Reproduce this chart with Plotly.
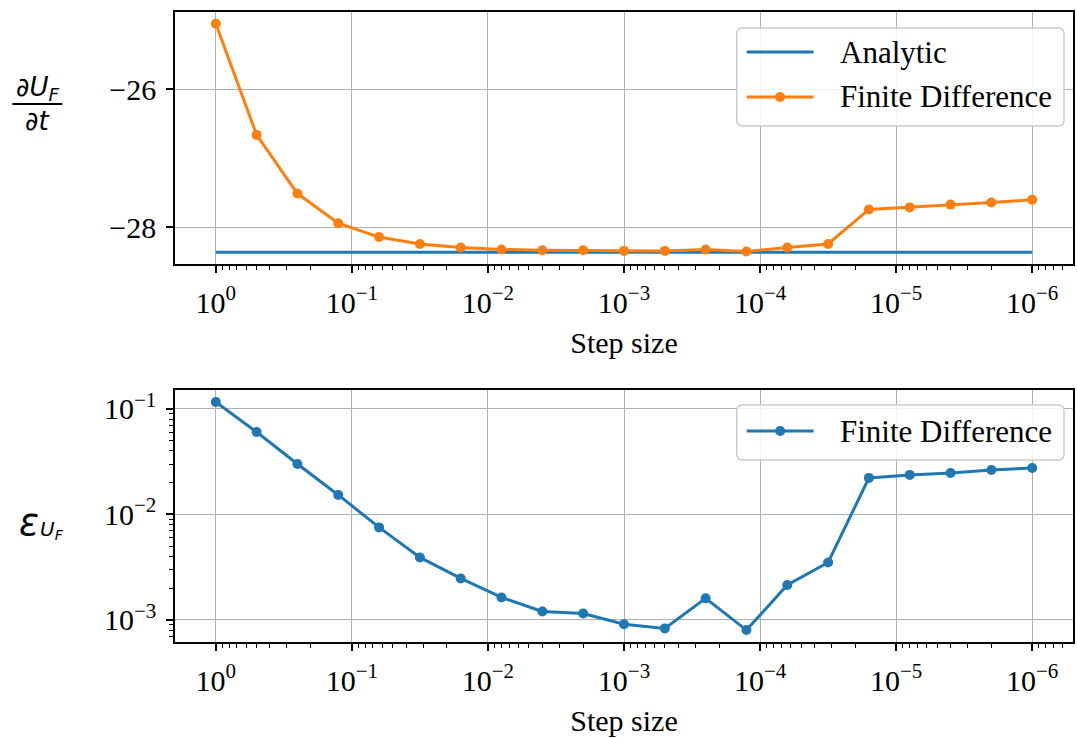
import plotly.graph_objects as go

# ---------------- data ----------------
step_size = [1.0, 5.012e-1, 2.512e-1, 1.259e-1, 6.310e-2, 3.162e-2, 1.585e-2,
             7.943e-3, 3.981e-3, 1.995e-3, 1.0e-3, 5.012e-4, 2.512e-4, 1.259e-4,
             6.310e-5, 3.162e-5, 1.585e-5, 7.943e-6, 3.981e-6, 1.995e-6, 1.0e-6]
analytic_value = -28.36
analytic = [analytic_value] * len(step_size)
finite_diff = [-25.05, -26.66, -27.51, -27.94, -28.14, -28.24, -28.29, -28.32,
               -28.33, -28.33, -28.34, -28.34, -28.32, -28.35, -28.29, -28.24,
               -27.74, -27.71, -27.67, -27.64, -27.60]
rel_error = [0.1165, 0.0605, 0.0301, 0.0153, 0.00753, 0.00391, 0.00247, 0.00163,
             0.00120, 0.00115, 0.00091, 0.00083, 0.00160, 0.00080, 0.00214,
             0.00350, 0.0222, 0.0237, 0.0247, 0.0264, 0.0276]

x_major = [1, 1e-1, 1e-2, 1e-3, 1e-4, 1e-5, 1e-6]
x_major_text = ["10<sup>0</sup>", "10<sup>−1</sup>", "10<sup>−2</sup>", "10<sup>−3</sup>",
                "10<sup>−4</sup>", "10<sup>−5</sup>", "10<sup>−6</sup>"]
y1_ticks = [-26, -28]
y1_text = ["−26", "−28"]
y2_ticks = [1e-1, 1e-2, 1e-3]
y2_text = ["10<sup>−1</sup>", "10<sup>−2</sup>", "10<sup>−3</sup>"]

BLUE = "#1f77b4"
ORANGE = "#ff7f0e"
FONT = "Liberation Serif"
LW = 3
MS = 10

def minor_vals(lo_exp, hi_exp):
    out = []
    for e in range(lo_exp, hi_exp + 1):
        for m in range(2, 10):
            out.append(m * 10.0 ** e)
    return out

W, H = 1077, 738
L, R, T, B = 175, 2, 12, 96
PW, PH = W - L - R, H - T - B

def px(x):
    return (x - L) / PW

def py(y):
    return (H - B - y) / PH

fig = go.Figure()

fig.add_trace(go.Scatter(x=step_size, y=analytic, mode="lines", name="Analytic",
                         line=dict(color=BLUE, width=LW), xaxis="x", yaxis="y",
                         showlegend=False))
fig.add_trace(go.Scatter(x=step_size, y=finite_diff, mode="lines+markers",
                         name="Finite Difference",
                         line=dict(color=ORANGE, width=LW),
                         marker=dict(color=ORANGE, size=MS),
                         xaxis="x", yaxis="y", showlegend=False))
fig.add_trace(go.Scatter(x=step_size, y=rel_error, mode="lines+markers",
                         name="Finite Difference",
                         line=dict(color=BLUE, width=LW),
                         marker=dict(color=BLUE, size=MS),
                         xaxis="x2", yaxis="y2", showlegend=False))

axis_common = dict(showline=True, linecolor="black", linewidth=1.5, mirror=True,
                   ticks="outside", ticklen=7, tickwidth=1.5, tickcolor="black",
                   showgrid=True, gridcolor="#b0b0b0", gridwidth=1.2,
                   zeroline=False, ticklabelstandoff=4,
                   tickfont=dict(family=FONT, size=30, color="black"))

minor_x = dict(tickvals=minor_vals(-7, 0), ticks="outside", ticklen=4,
               tickwidth=1, tickcolor="black", showgrid=False)

fig.update_layout(
    width=W, height=H,
    margin=dict(l=L, r=R, t=T, b=B),
    paper_bgcolor="white", plot_bgcolor="white",
    font=dict(family=FONT, size=30, color="black"),
    showlegend=False,
    xaxis=dict(type="log", range=[0.3, -6.3], domain=[0, 1], anchor="y",
               tickvals=x_major, ticktext=x_major_text, minor=minor_x,
               title=dict(text="Step size", standoff=14,
                          font=dict(family=FONT, size=30)),
               **axis_common),
    yaxis=dict(range=[-28.53, -24.88], domain=[py(264), 1], anchor="x",
               tickvals=y1_ticks, ticktext=y1_text, **axis_common),
    xaxis2=dict(type="log", range=[0.3, -6.3], domain=[0, 1], anchor="y2",
                tickvals=x_major, ticktext=x_major_text, minor=minor_x,
                title=dict(text="Step size", standoff=14,
                           font=dict(family=FONT, size=30)),
                **axis_common),
    yaxis2=dict(type="log", range=[-3.21, -0.82], domain=[0, py(390)], anchor="x2",
                tickvals=y2_ticks, ticktext=y2_text,
                minor=dict(tickvals=minor_vals(-4, -1), ticks="outside", ticklen=4,
                           tickwidth=1, tickcolor="black", showgrid=False),
                **axis_common),
)

# ---------- y-axis labels ----------
LBL = "DejaVu Sans"
ann = [
    dict(text="<i>∂U</i><sub><i>F</i></sub>", x=px(37), y=py(88), font=dict(family=LBL, size=26)),
    dict(text="<i>∂t</i>", x=px(37), y=py(121), font=dict(family=LBL, size=26)),
    dict(text="<i>ε</i>", x=px(29), y=py(522), font=dict(family=LBL, size=37)),
    dict(text="<i>U</i><sub><i>F</i></sub>", x=px(52), y=py(530), font=dict(family=LBL, size=20)),
]
for a in ann:
    fig.add_annotation(xref="paper", yref="paper", showarrow=False,
                       xanchor="center", yanchor="middle", **a)

fig.add_shape(type="line", xref="paper", yref="paper",
              x0=px(12), x1=px(62), y0=py(104), y1=py(104),
              line=dict(color="black", width=2))

# ---------- legends (drawn boxes) ----------
def rounded_box(x0, y0, x1, y1, r=6):
    pts = (f"M {px(x0 + r)},{py(y0)} L {px(x1 - r)},{py(y0)} "
           f"Q {px(x1)},{py(y0)} {px(x1)},{py(y0 + r)} "
           f"L {px(x1)},{py(y1 - r)} Q {px(x1)},{py(y1)} {px(x1 - r)},{py(y1)} "
           f"L {px(x0 + r)},{py(y1)} Q {px(x0)},{py(y1)} {px(x0)},{py(y1 - r)} "
           f"L {px(x0)},{py(y0 + r)} Q {px(x0)},{py(y0)} {px(x0 + r)},{py(y0)} Z")
    return pts

def legend_box(y0, y1):
    fig.add_shape(type="path", xref="paper", yref="paper", layer="above",
                  path=rounded_box(738, y0, 1066, y1),
                  fillcolor="rgba(255,255,255,0.85)",
                  line=dict(color="#cccccc", width=1.5))

def legend_item(y, label, color, marker):
    fig.add_shape(type="line", xref="paper", yref="paper", layer="above",
                  x0=px(748), x1=px(815), y0=py(y), y1=py(y),
                  line=dict(color=color, width=LW))
    if marker:
        fig.add_shape(type="circle", xref="paper", yref="paper", layer="above",
                      xsizemode="pixel", ysizemode="pixel",
                      xanchor=px(781.5), yanchor=py(y),
                      x0=-MS / 2, x1=MS / 2, y0=-MS / 2, y1=MS / 2,
                      fillcolor=color, line=dict(color=color, width=0))
    fig.add_annotation(xref="paper", yref="paper", showarrow=False,
                       x=px(839), y=py(y), xanchor="left", yanchor="middle",
                       text=label, font=dict(family=FONT, size=31, color="black"))

legend_box(28, 126)
legend_item(52, "Analytic", BLUE, False)
legend_item(97, "Finite Difference", ORANGE, True)

legend_box(405, 460)
legend_item(431, "Finite Difference", BLUE, True)

fig.write_html("out.html")
